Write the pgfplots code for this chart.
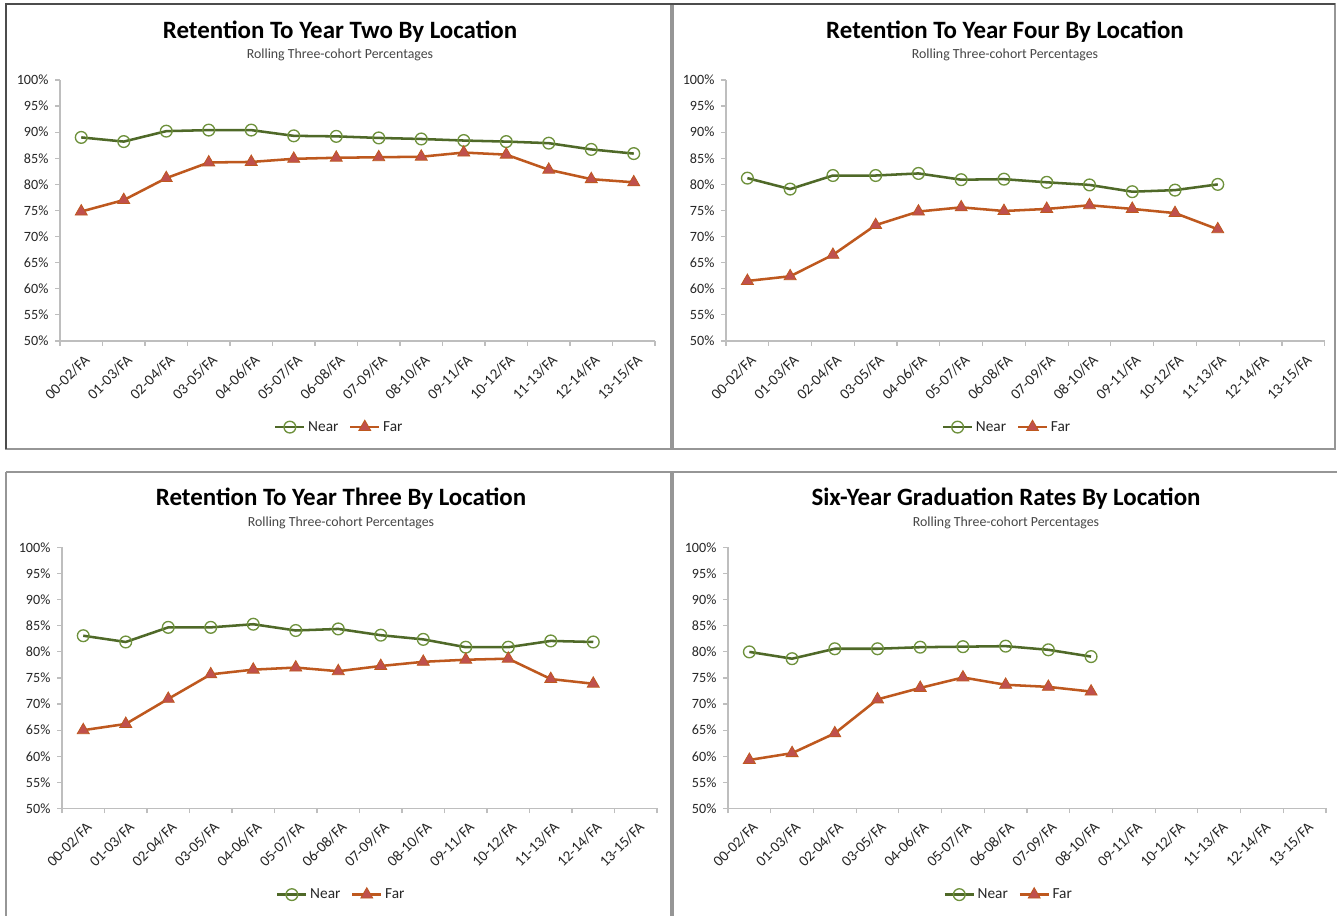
\documentclass[border=0pt]{standalone}
\usepackage{fontspec}
\setmainfont{Carlito}
\usepackage{pgfplots}
\pgfplotsset{compat=1.18}
\usepackage{pgfplotstable}

\definecolor{nearline}{RGB}{79,105,40}
\definecolor{nearmark}{RGB}{110,145,60}
\definecolor{farline}{RGB}{190,88,30}
\definecolor{farmark}{RGB}{192,80,77}
\definecolor{axisgray}{RGB}{190,190,190}
\definecolor{framegray}{RGB}{150,150,150}
\definecolor{subgray}{RGB}{70,70,70}

% Retention to year two
\pgfplotstableread{
x near far
0 89.0 74.8
1 88.2 77.0
2 90.2 81.2
3 90.4 84.2
4 90.4 84.3
5 89.3 84.9
6 89.2 85.1
7 88.9 85.2
8 88.7 85.3
9 88.4 86.1
10 88.2 85.7
11 87.9 82.8
12 86.7 81.0
13 85.9 80.4
}\tabTwo
% Retention to year four
\pgfplotstableread{
x near far
0 81.2 61.5
1 79.1 62.4
2 81.7 66.5
3 81.7 72.2
4 82.1 74.8
5 80.9 75.6
6 81.0 74.9
7 80.4 75.3
8 79.9 76.0
9 78.6 75.3
10 78.9 74.5
11 80.0 71.4
}\tabFour
% Retention to year three
\pgfplotstableread{
x near far
0 83.1 65.0
1 81.9 66.2
2 84.7 71.0
3 84.7 75.7
4 85.3 76.6
5 84.1 77.0
6 84.4 76.3
7 83.2 77.3
8 82.4 78.1
9 80.9 78.5
10 80.9 78.7
11 82.1 74.8
12 81.9 73.9
}\tabThree
% Six-year graduation
\pgfplotstableread{
x near far
0 80.0 59.3
1 78.7 60.6
2 80.6 64.4
3 80.6 70.9
4 80.9 73.1
5 81.0 75.1
6 81.1 73.7
7 80.4 73.3
8 79.1 72.4
}\tabSix

\pgfplotsset{
  panel/.style={
    scale only axis,
    height=195.75pt,
    xmin=-0.5, xmax=13.5,
    ymin=50, ymax=100,
    axis x line*=bottom, axis y line*=left,
    axis line style={draw=axisgray, line width=0.9pt},
    xtick={0,...,13},
    xticklabels={00-02/FA,01-03/FA,02-04/FA,03-05/FA,04-06/FA,05-07/FA,06-08/FA,07-09/FA,08-10/FA,09-11/FA,10-12/FA,11-13/FA,12-14/FA,13-15/FA},
    major x tick style={draw=none},
    minor xtick={-0.5,0.5,...,13.5},
    minor x tick style={draw=axisgray, line width=0.9pt},
    minor tick length=3.5pt,
    ytick={50,55,...,100},
    yticklabels={50\%,55\%,60\%,65\%,70\%,75\%,80\%,85\%,90\%,95\%,100\%},
    major y tick style={draw=axisgray, line width=0.9pt},
    major tick length=3.5pt,
    tick align=outside,
    xticklabel style={rotate=45, anchor=north east, font=\fontsize{11.3}{12}\selectfont, text=black!85, inner sep=1pt, xshift=-2pt, yshift=-4pt},
    yticklabel style={font=\fontsize{10.6}{12}\selectfont, text=black!85, inner sep=2pt, xshift=-3pt},
    clip=false,
    legend style={at={(0.47,-0.33)}, anchor=center, legend columns=2, draw=none, fill=none,
      font=\fontsize{11.5}{13}\selectfont, text=black!85,
      /tikz/every even column/.append style={column sep=6pt}},
    legend cell align=left,
    legend image code/.code={%
      \draw[mark repeat=2,mark phase=2,#1] plot coordinates {(0cm,0cm) (0.38cm,0cm) (0.76cm,0cm)};},
  },
  nearstyle/.style={draw=nearline, line width=1.9pt, mark=o, mark size=4.4pt,
     mark options={draw=nearmark, fill=white, line width=1pt}},
  farstyle/.style={draw=farline, line width=1.9pt, mark=triangle*, mark size=5.2pt,
     mark options={draw=farline, fill=farmark, line width=0.6pt}},
}

\begin{document}
\begin{tikzpicture}
\begin{scope}[x=0.75pt,y=0.75pt]
\path[use as bounding box] (0,0) rectangle (1337,916);
\fill[white] (0,0) rectangle (1337,916);

% frames (y measured from bottom: y = 916 - pixel row)
\draw[framegray, line width=1.5pt] (6,912) rectangle (671,467);
\draw[framegray, line width=1.5pt] (673,912) rectangle (1335,467);
\draw[framegray, line width=1.5pt] (6,444) -- (671,444) -- (671,-4);
\draw[framegray, line width=1.5pt] (6,-4) -- (6,444);
\draw[framegray, line width=1.5pt] (673,-4) -- (673,444) -- (1340,444);
\draw[black!70, line width=1.5pt] (6,467) -- (6,912) -- (1335,912);

% titles
\node[font=\fontsize{18.7}{20}\selectfont\bfseries] at (340,884) {Retention To Year Two By Location};
\node[font=\fontsize{10.4}{12}\selectfont, text=subgray] at (340,861) {Rolling Three-cohort Percentages};
\node[font=\fontsize{18.7}{20}\selectfont\bfseries] at (1005,884) {Retention To Year Four By Location};
\node[font=\fontsize{10.4}{12}\selectfont, text=subgray] at (1005,861) {Rolling Three-cohort Percentages};
\node[font=\fontsize{18.7}{20}\selectfont\bfseries] at (341,417) {Retention To Year Three By Location};
\node[font=\fontsize{10.4}{12}\selectfont, text=subgray] at (341,393) {Rolling Three-cohort Percentages};
\node[font=\fontsize{18.7}{20}\selectfont\bfseries] at (1006,417) {Six-Year Graduation Rates By Location};
\node[font=\fontsize{10.4}{12}\selectfont, text=subgray] at (1006,393) {Rolling Three-cohort Percentages};
\end{scope}

% panel 1
\begin{axis}[panel, width=446.25pt, at={(45pt,431.25pt)}, anchor=south west]
\addplot[nearstyle] table[x=x,y=near]{\tabTwo};
\addlegendentry{Near}
\addplot[farstyle] table[x=x,y=far]{\tabTwo};
\addlegendentry{Far}
\end{axis}

% panel 2
\begin{axis}[panel, width=449pt, at={(544.5pt,431.25pt)}, anchor=south west]
\addplot[nearstyle] table[x=x,y=near]{\tabFour};
\addlegendentry{Near}
\addplot[farstyle] table[x=x,y=far]{\tabFour};
\addlegendentry{Far}
\end{axis}

% panel 3
\begin{axis}[panel, width=446.25pt, at={(46.5pt,80.625pt)}, anchor=south west]
\addplot[nearstyle] table[x=x,y=near]{\tabThree};
\addlegendentry{Near}
\addplot[farstyle] table[x=x,y=far]{\tabThree};
\addlegendentry{Far}
\end{axis}

% panel 4
\begin{axis}[panel, width=448.5pt, at={(546pt,80.625pt)}, anchor=south west]
\addplot[nearstyle] table[x=x,y=near]{\tabSix};
\addlegendentry{Near}
\addplot[farstyle] table[x=x,y=far]{\tabSix};
\addlegendentry{Far}
\end{axis}
\end{tikzpicture}
\end{document}
